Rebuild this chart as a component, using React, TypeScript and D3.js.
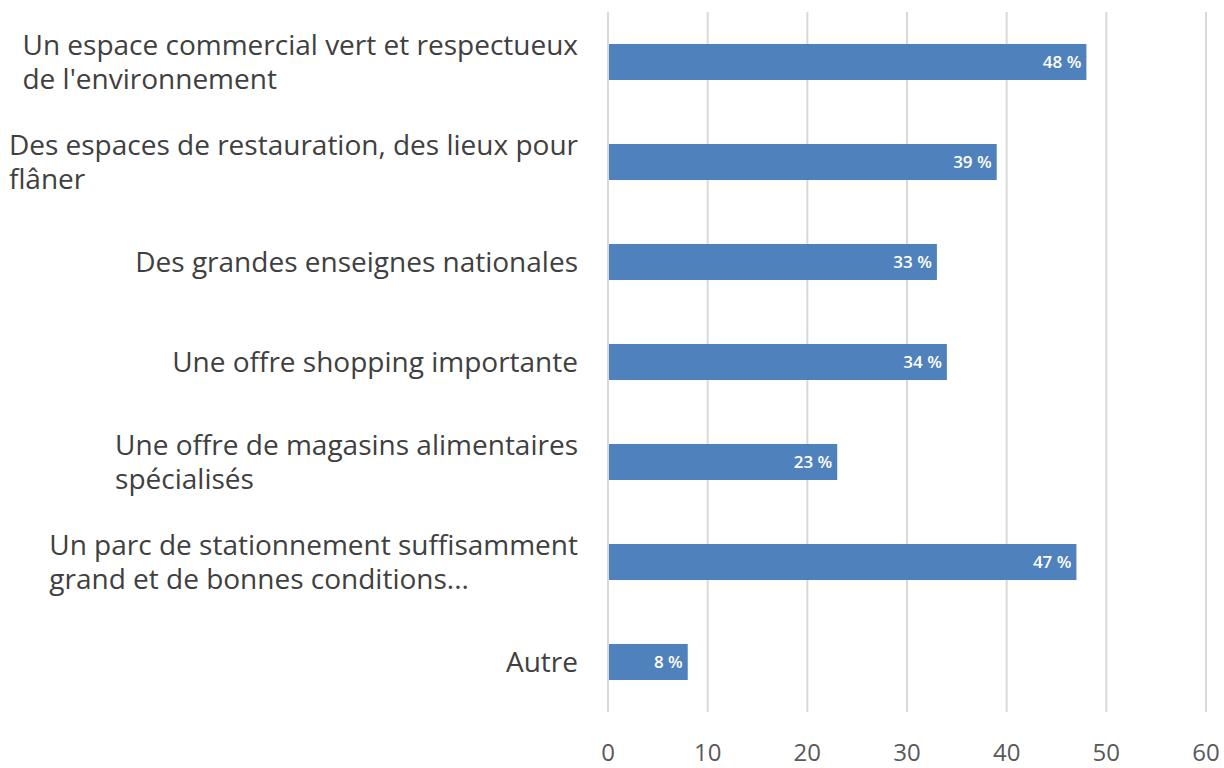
import React, { useEffect, useRef } from 'react';
import * as d3 from 'd3';

// catégories (lignes déjà coupées comme dans l'original)
const categories: string[][] = [
  ["Un espace commercial vert et respectueux", "de l'environnement"],
  ["Des espaces de restauration, des lieux pour", "flâner"],
  ["Des grandes enseignes nationales"],
  ["Une offre shopping importante"],
  ["Une offre de magasins alimentaires", "spécialisés"],
  ["Un parc de stationnement suffisamment", "grand et de bonnes conditions..."],
  ["Autre"],
];
const values: number[] = [48, 39, 33, 34, 23, 47, 8];
const ticks: number[] = [0, 10, 20, 30, 40, 50, 60];

const App = () => {
  const ref = useRef<SVGSVGElement>(null);

  useEffect(() => {
    const svg = d3.select(ref.current);
    svg.selectAll("*").remove();

    const width = 1224;
    const height = 768;
    const left = 608;
    const right = 1206;
    const top = 12;
    const bottom = 712;
    const font = "'Open Sans', 'Segoe UI', sans-serif";

    const x = d3.scaleLinear().domain([0, 60]).range([left, right]);
    const y = d3.scaleBand<number>()
      .domain(d3.range(categories.length))
      .range([top, bottom])
      .paddingInner(0.64)
      .paddingOuter(0.32);

    // grille
    svg.append("g")
      .selectAll("line")
      .data(ticks)
      .enter()
      .append("line")
      .attr("x1", d => x(d))
      .attr("x2", d => x(d))
      .attr("y1", top)
      .attr("y2", bottom)
      .attr("stroke", "#d9d9d9")
      .attr("stroke-width", 2);

    // barres
    svg.append("g")
      .selectAll("rect")
      .data(values)
      .enter()
      .append("rect")
      .attr("x", x(0) + 1)
      .attr("y", (d, i) => y(i)!)
      .attr("width", d => x(d) - x(0) - 1)
      .attr("height", y.bandwidth())
      .attr("fill", "#4f81bd");

    // étiquettes de valeur
    svg.append("g")
      .selectAll("text")
      .data(values)
      .enter()
      .append("text")
      .attr("x", d => x(d) - 5)
      .attr("y", (d, i) => y(i)! + y.bandwidth() / 2)
      .attr("dy", "0.36em")
      .attr("text-anchor", "end")
      .attr("fill", "#ffffff")
      .attr("font-family", font)
      .attr("font-weight", 600)
      .attr("font-size", 17)
      .text(d => `${d} %`);

    // libellés des catégories : un seul <text> par libellé, bloc aligné à gauche, bord droit à 578
    const lineH = 34;
    categories.forEach((lines, i) => {
      const cy = y(i)! + y.bandwidth() / 2;
      const t = svg.append("text")
        .attr("fill", "#404040")
        .attr("font-family", font)
        .attr("font-size", 28);
      const spans = lines.map((l, j) =>
        t.append("tspan")
          .attr("y", cy + (j - (lines.length - 1) / 2) * lineH)
          .attr("dy", "0.35em")
          .text(l)
      );
      const w = d3.max(spans, s => (s.node() as SVGTSpanElement).getComputedTextLength()) || 0;
      spans.forEach(s => s.attr("x", 578 - w));
    });

    // axe x
    svg.append("g")
      .selectAll("text")
      .data(ticks)
      .enter()
      .append("text")
      .attr("x", d => x(d))
      .attr("y", 753)
      .attr("dy", "0.35em")
      .attr("text-anchor", "middle")
      .attr("fill", "#595959")
      .attr("font-family", font)
      .attr("font-size", 24)
      .text(d => d);

    svg.attr("width", width).attr("height", height);
  }, []);

  return <svg ref={ref} width="1224" height="768" style={{ position: "absolute", left: 0, top: 0, background: "#fff" }}></svg>;
};

export default App;
